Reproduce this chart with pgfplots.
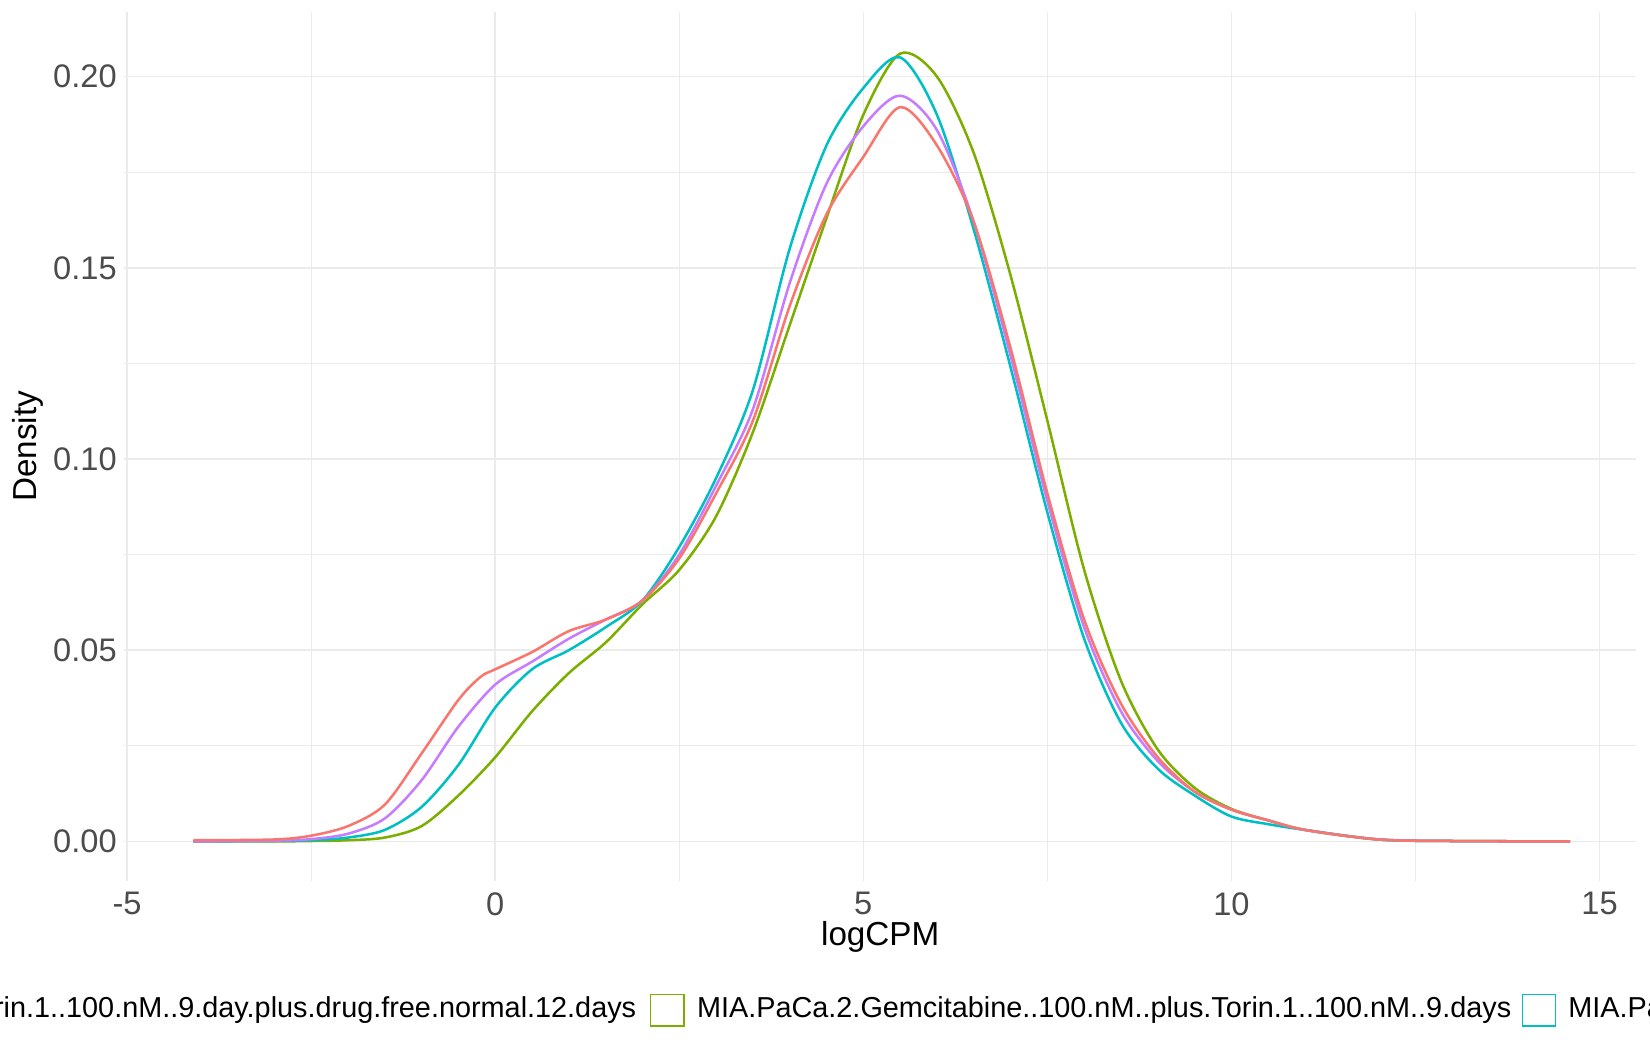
\documentclass[border=0pt]{standalone}
\usepackage{pgfplots}
\pgfplotsset{compat=1.18}
\usepackage{fontspec}
\setmainfont{Liberation Sans}
\definecolor{cr}{HTML}{F8766D}
\definecolor{cg}{HTML}{7CAE00}
\definecolor{cc}{HTML}{00BFC4}
\definecolor{cp}{HTML}{C77CFF}
\definecolor{gr}{HTML}{EBEBEB}
\begin{document}
\begin{tikzpicture}
\useasboundingbox (0,0) rectangle (784pt,499pt);
\begin{axis}[at={(59pt,80.5pt)},anchor=south west,scale only axis,
 width=718.5pt,height=413pt,xmin=-5.04,xmax=15.5,ymin=-0.0103,ymax=0.217,
 axis line style={draw=none},tick style={draw=none},
 xtick={-5,0,5,10,15},ytick={0,0.05,0.1,0.15,0.2},
 minor xtick={-2.5,2.5,7.5,12.5},minor ytick={0.025,0.075,0.125,0.175},
 grid=both,major grid style={gr,line width=0.7pt},minor grid style={gr,line width=0.4pt},
 yticklabel style={/pgf/number format/.cd,fixed,fixed zerofill,precision=2},
 /pgf/number format/assume math mode=true,
 ticklabel style={font=\fontsize{15.5}{17}\selectfont,text=black!70},
 xticklabel style={yshift=-2pt},
 xlabel={logCPM},ylabel={Density},
 label style={font=\fontsize{15.8}{17}\selectfont},
 xlabel style={yshift=4pt},ylabel style={yshift=-2pt},
 clip=false]
\addplot[cg,line width=1.2pt,smooth] coordinates {(-4.1,0)(-3,0)(-2.5,0.0001)(-2,0.0003)(-1.5,0.001)(-1,0.004)(-0.5,0.012)(0,0.022)(0.5,0.034)(1,0.044)(1.5,0.052)(2,0.062)(2.5,0.071)(3,0.085)(3.5,0.107)(4,0.135)(4.5,0.163)(5,0.19)(5.5,0.206)(6,0.2)(6.5,0.18)(7,0.148)(7.5,0.11)(8,0.071)(8.5,0.042)(9,0.024)(9.5,0.014)(10,0.0085)(10.5,0.0055)(11,0.003)(12,0.0005)(13,0.0001)(14.6,0)};
\addplot[cc,line width=1.2pt,smooth] coordinates {(-4.1,0)(-3,0.0001)(-2.5,0.0003)(-2,0.001)(-1.5,0.003)(-1,0.009)(-0.5,0.02)(0,0.035)(0.5,0.045)(1,0.05)(1.5,0.056)(2,0.063)(2.5,0.077)(3,0.095)(3.5,0.118)(4,0.155)(4.5,0.182)(5,0.197)(5.5,0.205)(6,0.19)(6.5,0.16)(7,0.124)(7.5,0.086)(8,0.053)(8.5,0.031)(9,0.019)(9.5,0.012)(10,0.0065)(10.5,0.0045)(11,0.003)(12,0.0005)(13,0.0001)(14.6,0)};
\addplot[cp,line width=1.2pt,smooth] coordinates {(-4.1,0)(-3,0.0002)(-2.5,0.0006)(-2,0.002)(-1.5,0.006)(-1,0.016)(-0.5,0.03)(0,0.041)(0.5,0.047)(1,0.053)(1.5,0.058)(2,0.063)(2.5,0.075)(3,0.093)(3.5,0.113)(4,0.146)(4.5,0.172)(5,0.187)(5.5,0.195)(6,0.186)(6.5,0.162)(7,0.127)(7.5,0.089)(8,0.056)(8.5,0.034)(9,0.021)(9.5,0.013)(10,0.0083)(10.5,0.0055)(11,0.003)(12,0.0005)(13,0.0001)(14.6,0)};
\addplot[cr,line width=1.2pt,smooth] coordinates {(-4.1,0.0003)(-3,0.0005)(-2.5,0.0015)(-2,0.004)(-1.5,0.0096)(-1,0.023)(-0.5,0.037)(-0.2,0.043)(0,0.045)(0.5,0.0495)(1,0.055)(1.5,0.058)(2,0.063)(2.5,0.074)(3,0.091)(3.5,0.11)(4,0.14)(4.5,0.164)(5,0.179)(5.5,0.192)(6,0.182)(6.5,0.162)(7,0.129)(7.5,0.091)(8,0.058)(8.5,0.036)(9,0.022)(9.5,0.013)(10,0.0083)(10.5,0.0055)(11,0.003)(12,0.0005)(13,0.0001)(14.6,0)};
\end{axis}
\begin{scope}[font=\fontsize{13.7}{16}\selectfont]
\node[anchor=east,inner sep=0] at (302.5pt,19pt) {MIA.PaCa.2.Gemcitabine..100.nM..plus.Torin.1..100.nM..9.day.plus.drug.free.normal.12.days};
\draw[cg,line width=0.6pt,fill=white] (309pt,11.5pt) rectangle (325pt,26.5pt);
\node[anchor=west,inner sep=0] at (331pt,19pt) {MIA.PaCa.2.Gemcitabine..100.nM..plus.Torin.1..100.nM..9.days};
\draw[cc,line width=0.6pt,fill=white] (723.5pt,11.5pt) rectangle (739pt,26.5pt);
\node[anchor=west,inner sep=0] at (745pt,19pt) {MIA.PaCa.2.Gemcitabine..100.nM..9.days};
\end{scope}
\end{tikzpicture}
\end{document}
